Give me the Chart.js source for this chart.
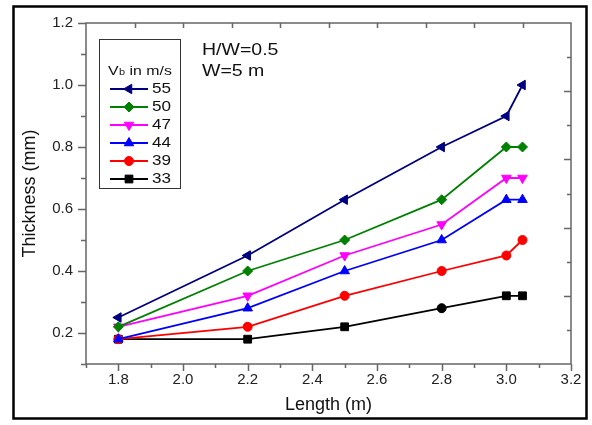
<!DOCTYPE html>
<html>
<head>
<meta charset="utf-8">
<script src="https://cdn.jsdelivr.net/npm/chart.js@4.4.1/dist/chart.umd.min.js"></script>
<style>
  html, body { margin: 0; padding: 0; background: #fff; }
  #wrap { width: 592px; height: 425px; }
</style>
</head>
<body>
<div id="wrap"><canvas id="chart" width="592" height="425"></canvas></div>
<script>
// Data
const lengths = [1.8, 2.2, 2.5, 2.8, 3.0, 3.05];
const speeds = ['55', '50', '47', '44', '39', '33'];
const v55 = [0.25, 0.45, 0.63, 0.80, 0.90, 1.00];
const v50 = [0.22, 0.40, 0.50, 0.63, 0.80, 0.80];
const v47 = [0.22, 0.32, 0.45, 0.55, 0.70, 0.70];
const v44 = [0.18, 0.28, 0.40, 0.50, 0.63, 0.63];
const v39 = [0.18, 0.22, 0.32, 0.40, 0.45, 0.50];
const v33 = [0.18, 0.18, 0.22, 0.28, 0.32, 0.32];
const xTicks = [1.8, 2.0, 2.2, 2.4, 2.6, 2.8, 3.0, 3.2];
const yTicks = [0.2, 0.4, 0.6, 0.8, 1.0, 1.2];
const xMinor = [1.7, 1.9, 2.1, 2.3, 2.5, 2.7, 2.9, 3.1];
const yMinor = [0.1, 0.3, 0.5, 0.7, 0.9, 1.1];

const FONT = 'Liberation Sans, Arial, sans-serif';
const TEXT_STRETCH = 1.22; // original lettering is a bit wide

// Series styles
const STYLES = [
    { color: '#00007F', pointStyle: 'triangle', rotation: -90, radius: 5.5 },
    { color: '#008000', pointStyle: 'rectRot', rotation: 0, radius: 5 },
    { color: '#FF00FF', pointStyle: 'triangle', rotation: 180, radius: 5.5 },
    { color: '#0000FF', pointStyle: 'triangle', rotation: 0, radius: 5.5 },
    { color: '#FF0000', pointStyle: 'circle', rotation: 0, radius: 4.5 },
    { color: '#000000', pointStyle: 'rect', rotation: 0, radius: 5.5 }
];
const seriesValues = [v55, v50, v47, v44, v39, v33];

function toPoints(values) {
    return lengths.map((x, i) => ({ x: x, y: values[i] }));
}

const datasets = seriesValues.map((values, i) => {
    const s = STYLES[i];
    // the black series has a round marker at 2.8 m in the original
    const ps = i === 5 ? lengths.map(x => x === 2.8 ? 'circle' : 'rect') : s.pointStyle;
    const pr = i === 5 ? lengths.map(x => x === 2.8 ? 4.5 : s.radius) : s.radius;
    return {
        label: speeds[i],
        data: toPoints(values),
        showLine: true,
        borderColor: s.color,
        backgroundColor: s.color,
        borderWidth: 1.8,
        pointStyle: ps,
        pointRotation: s.rotation,
        pointRadius: pr,
        pointBorderWidth: 1,
        tension: 0
    };
});

// Draw text stretched horizontally, returns drawn width
function wideText(ctx, text, x, y) {
    ctx.save();
    ctx.translate(x, y);
    ctx.scale(TEXT_STRETCH, 1);
    ctx.fillText(text, 0, 0);
    const w = ctx.measureText(text).width * TEXT_STRETCH;
    ctx.restore();
    return w;
}

// Frame, mirror ticks, legend box and notes
const extrasPlugin = {
    id: 'extras',
    beforeDraw(chart) {
        const ctx = chart.ctx;
        ctx.save();
        ctx.fillStyle = '#fff';
        ctx.fillRect(0, 0, chart.width, chart.height);
        ctx.restore();
    },
    afterDraw(chart) {
        const ctx = chart.ctx;
        const a = chart.chartArea;
        const xs = chart.scales.x;
        const ys = chart.scales.y;
        ctx.save();

        // outer frame
        ctx.strokeStyle = '#000';
        ctx.lineWidth = 2.5;
        ctx.strokeRect(13.5, 6.5, 573, 412);

        // plot frame
        ctx.strokeStyle = '#666';
        ctx.lineWidth = 1.5;
        ctx.strokeRect(a.left, a.top, a.right - a.left, a.bottom - a.top);

        // bottom ticks (outward)
        ctx.beginPath();
        xTicks.forEach(v => {
            const px = Math.round(xs.getPixelForValue(v)) + 0.5;
            ctx.moveTo(px, a.bottom); ctx.lineTo(px, a.bottom + 7);
        });
        xMinor.forEach(v => {
            const px = Math.round(xs.getPixelForValue(v)) + 0.5;
            ctx.moveTo(px, a.bottom); ctx.lineTo(px, a.bottom + 4);
        });
        // left ticks (outward)
        yTicks.forEach(v => {
            const py = Math.round(ys.getPixelForValue(v)) + 0.5;
            ctx.moveTo(a.left, py); ctx.lineTo(a.left - 8, py);
        });
        yMinor.forEach(v => {
            const py = Math.round(ys.getPixelForValue(v)) + 0.5;
            ctx.moveTo(a.left, py); ctx.lineTo(a.left - 5, py);
        });
        // top and right mirror ticks (inward, ten divisions)
        for (let i = 1; i < 10; i++) {
            const px = Math.round(a.left + (a.right - a.left) * i / 10) + 0.5;
            ctx.moveTo(px, a.top); ctx.lineTo(px, a.top + 5);
            const py = Math.round(a.top + (a.bottom - a.top) * i / 10) + 0.5;
            const len = i % 2 === 0 ? 7 : 4;
            ctx.moveTo(a.right, py); ctx.lineTo(a.right - len, py);
        }
        ctx.stroke();

        // legend box
        ctx.strokeStyle = '#333';
        ctx.lineWidth = 1;
        ctx.strokeRect(99.5, 39.5, 81, 149);

        ctx.fillStyle = '#111';
        ctx.textBaseline = 'middle';
        ctx.textAlign = 'left';
        let tx = 108;
        ctx.font = '13px ' + FONT;
        tx += wideText(ctx, 'V', tx, 71);
        ctx.font = '9px ' + FONT;
        tx += wideText(ctx, 'b', tx + 0.5, 73) + 0.5;
        ctx.font = '13px ' + FONT;
        wideText(ctx, ' in m/s', tx, 71);

        chart.data.datasets.forEach((ds, i) => {
            const y = 89 + i * 18;
            ctx.strokeStyle = ds.borderColor;
            ctx.lineWidth = 1.8;
            ctx.beginPath();
            ctx.moveTo(110, y); ctx.lineTo(148, y);
            ctx.stroke();
            ctx.fillStyle = ds.backgroundColor;
            ctx.strokeStyle = ds.borderColor;
            ctx.lineWidth = 1;
            Chart.helpers.drawPoint(ctx, {
                pointStyle: STYLES[i].pointStyle,
                rotation: STYLES[i].rotation,
                radius: STYLES[i].radius,
                borderWidth: 1
            }, 129, y);
            ctx.fillStyle = '#111';
            ctx.font = '14px ' + FONT;
            wideText(ctx, ds.label, 152, y + 0.5);
        });

        // notes
        ctx.font = '16px ' + FONT;
        ctx.fillStyle = '#111';
        wideText(ctx, 'H/W=0.5', 202, 51);
        wideText(ctx, 'W=5 m', 202, 72);

        ctx.restore();
    }
};

const ctx = document.getElementById('chart').getContext('2d');
new Chart(ctx, {
    type: 'scatter',
    data: { datasets: datasets },
    options: {
        responsive: false,
        animation: false,
        events: [],
        layout: { padding: { left: 0, right: 21, top: 23, bottom: 0 } },
        plugins: {
            legend: { display: false },
            tooltip: { enabled: false }
        },
        scales: {
            x: {
                type: 'linear',
                min: 1.7,
                max: 3.2,
                grid: { display: false, drawTicks: false },
                border: { display: false },
                afterBuildTicks: s => { s.ticks = xTicks.map(v => ({ value: v })); },
                afterFit: s => { s.height = 61; },
                ticks: {
                    padding: 7,
                    color: '#222',
                    font: { family: FONT, size: 15 },
                    callback: v => Number(v).toFixed(1)
                },
                title: {
                    display: true,
                    text: 'Length (m)',
                    color: '#111',
                    font: { family: FONT, size: 18 },
                    padding: { top: 0, bottom: 9 }
                }
            },
            y: {
                type: 'linear',
                min: 0.1,
                max: 1.2,
                grid: { display: false, drawTicks: false },
                border: { display: false },
                afterBuildTicks: s => { s.ticks = yTicks.map(v => ({ value: v })); },
                afterFit: s => { s.width = 86; },
                ticks: {
                    padding: 13,
                    color: '#222',
                    font: { family: FONT, size: 15 },
                    callback: v => Number(v).toFixed(1)
                },
                title: {
                    display: true,
                    text: 'Thickness (mm)',
                    color: '#111',
                    font: { family: FONT, size: 18 },
                    padding: { top: 19, bottom: 0 }
                }
            }
        }
    },
    plugins: [extrasPlugin]
});
</script>
</body>
</html>
